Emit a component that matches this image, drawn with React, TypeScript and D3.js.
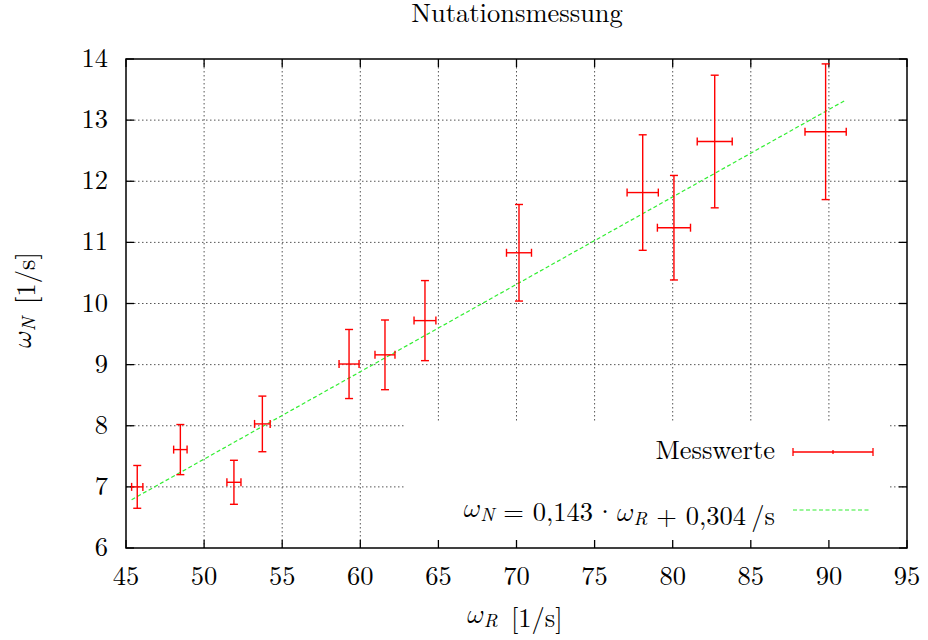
import React from "react";
import * as d3 from "d3";

// measured values (omega_R, omega_N) with errors
const omegaR = [45.72, 48.48, 51.91, 53.73, 59.28, 61.58, 64.14, 70.16, 78.08, 80.08, 82.69, 89.79];
const omegaN = [7.0, 7.61, 7.075, 8.03, 9.01, 9.16, 9.72, 10.83, 11.815, 11.24, 12.65, 12.81];
const errR = [0.36, 0.43, 0.45, 0.5, 0.64, 0.64, 0.7, 0.8, 1.0, 1.06, 1.12, 1.32];
const errN = [0.35, 0.41, 0.36, 0.455, 0.565, 0.57, 0.655, 0.79, 0.945, 0.855, 1.085, 1.11];

const slope = 0.143;
const intercept = 0.304;
const fitRange = [45.36, 91.1];

const xTicks = [45, 50, 55, 60, 65, 70, 75, 80, 85, 90, 95];
const yTicks = [6, 7, 8, 9, 10, 11, 12, 13, 14];

const W = 928;
const H = 640;
const left = 126;
const right = 907;
const top = 59;
const bottom = 548;

const serif = { fontFamily: '"Latin Modern Roman", "Liberation Serif", serif' };
const mathFont = '"Latin Modern Math", "DejaVu Serif", serif';
const fs = 26.5;
const sub = 19;

// italic omega with a subscript, TeX style
function Omega({ idx }: { idx: string }) {
  return (
    <>
      <tspan style={{ fontFamily: mathFont }}>{"\u{1D714}"}</tspan>
      <tspan fontStyle="italic" fontSize={sub} dy={4}>{idx}</tspan>
      <tspan dy={-4}>{""}</tspan>
    </>
  );
}

export default function App() {
  const x = d3.scaleLinear().domain([45, 95]).range([left, right]);
  const y = d3.scaleLinear().domain([6, 14]).range([bottom, top]);

  const fitLine = d3
    .line<number>()
    .x((d) => x(d))
    .y((d) => y(slope * d + intercept));

  const cap = 4;
  const tick = 8;
  const red = "#ff0000";

  // legend box hides the grid
  const legendBox = { x0: 405, x1: 890, y0: 423 };

  return (
    <svg
      width={W}
      height={H}
      style={{ position: "absolute", left: 0, top: 0, background: "#fff" }}
    >
      <text x={517} y={22} textAnchor="middle" fontSize={fs} style={serif}>
        Nutationsmessung
      </text>

      {/* grid */}
      <g stroke="#555" strokeWidth={1} strokeDasharray="1.5,2.5">
        {xTicks.slice(1, -1).map((t) => (
          <line key={"gx" + t} x1={x(t)} x2={x(t)} y1={top} y2={bottom} />
        ))}
        {yTicks.slice(1, -1).map((t) => (
          <line key={"gy" + t} x1={left} x2={right} y1={y(t)} y2={y(t)} />
        ))}
      </g>
      <rect
        x={legendBox.x0}
        y={legendBox.y0}
        width={legendBox.x1 - legendBox.x0}
        height={bottom - legendBox.y0}
        fill="#fff"
      />

      {/* ticks */}
      <g stroke="#000" strokeWidth={1.3}>
        {xTicks.map((t) => (
          <g key={"tx" + t}>
            <line x1={x(t)} x2={x(t)} y1={bottom} y2={bottom - tick} />
            <line x1={x(t)} x2={x(t)} y1={top} y2={top + tick} />
          </g>
        ))}
        {yTicks.map((t) => (
          <g key={"ty" + t}>
            <line x1={left} x2={left + tick} y1={y(t)} y2={y(t)} />
            <line x1={right} x2={right - tick} y1={y(t)} y2={y(t)} />
          </g>
        ))}
      </g>
      <rect
        x={left}
        y={top}
        width={right - left}
        height={bottom - top}
        fill="none"
        stroke="#000"
        strokeWidth={1.5}
      />

      {/* tick labels */}
      {xTicks.map((t) => (
        <text key={"lx" + t} x={x(t)} y={585} textAnchor="middle" fontSize={fs} style={serif}>
          {t}
        </text>
      ))}
      {yTicks.map((t) => (
        <text key={"ly" + t} x={108} y={y(t) + 8} textAnchor="end" fontSize={fs} style={serif}>
          {t}
        </text>
      ))}

      {/* axis labels */}
      <text x={515} y={623} textAnchor="middle" fontSize={fs} style={serif}>
        <Omega idx="R" />
        <tspan>{"\u2002[1/s]"}</tspan>
      </text>
      <text
        transform={`translate(31, 300) rotate(-90)`}
        textAnchor="middle"
        fontSize={fs}
        style={serif}
      >
        <Omega idx="N" />
        <tspan>{"\u2002[1/s]"}</tspan>
      </text>

      {/* fit line */}
      <path
        d={fitLine(fitRange) || ""}
        fill="none"
        stroke="#33ee33"
        strokeWidth={1.2}
        strokeDasharray="4,2.5"
      />

      {/* error bars */}
      <g stroke={red} strokeWidth={1.4} fill="none">
        {omegaR.map((r, i) => {
          const cx = x(r);
          const cy = y(omegaN[i]);
          const xl = x(r - errR[i]);
          const xr = x(r + errR[i]);
          const yt = y(omegaN[i] + errN[i]);
          const yb = y(omegaN[i] - errN[i]);
          return (
            <g key={"p" + i}>
              <line x1={cx} x2={cx} y1={yt} y2={yb} />
              <line x1={cx - cap} x2={cx + cap} y1={yt} y2={yt} />
              <line x1={cx - cap} x2={cx + cap} y1={yb} y2={yb} />
              <line x1={xl} x2={xr} y1={cy} y2={cy} />
              <line x1={xl} x2={xl} y1={cy - cap} y2={cy + cap} />
              <line x1={xr} x2={xr} y1={cy - cap} y2={cy + cap} />
            </g>
          );
        })}
      </g>

      {/* legend */}
      <text x={775} y={459} textAnchor="end" fontSize={fs} style={serif}>
        Messwerte
      </text>
      <g stroke={red} strokeWidth={1.3}>
        <line x1={793} x2={873} y1={452} y2={452} />
        <line x1={793} x2={793} y1={448} y2={456} />
        <line x1={873} x2={873} y1={448} y2={456} />
        <line x1={833} x2={833} y1={450} y2={454} />
      </g>
      <text x={775} y={517} textAnchor="end" fontSize={fs} style={serif}>
        <Omega idx="N" />
        <tspan>{" = 0,143\u200A·\u200A"}</tspan>
        <Omega idx="R" />
        <tspan>{" + 0,304\u2009/s"}</tspan>
      </text>
      <line
        x1={793}
        x2={871}
        y1={510}
        y2={510}
        stroke="#33ee33"
        strokeWidth={1.2}
        strokeDasharray="4,2.5"
      />
    </svg>
  );
}
